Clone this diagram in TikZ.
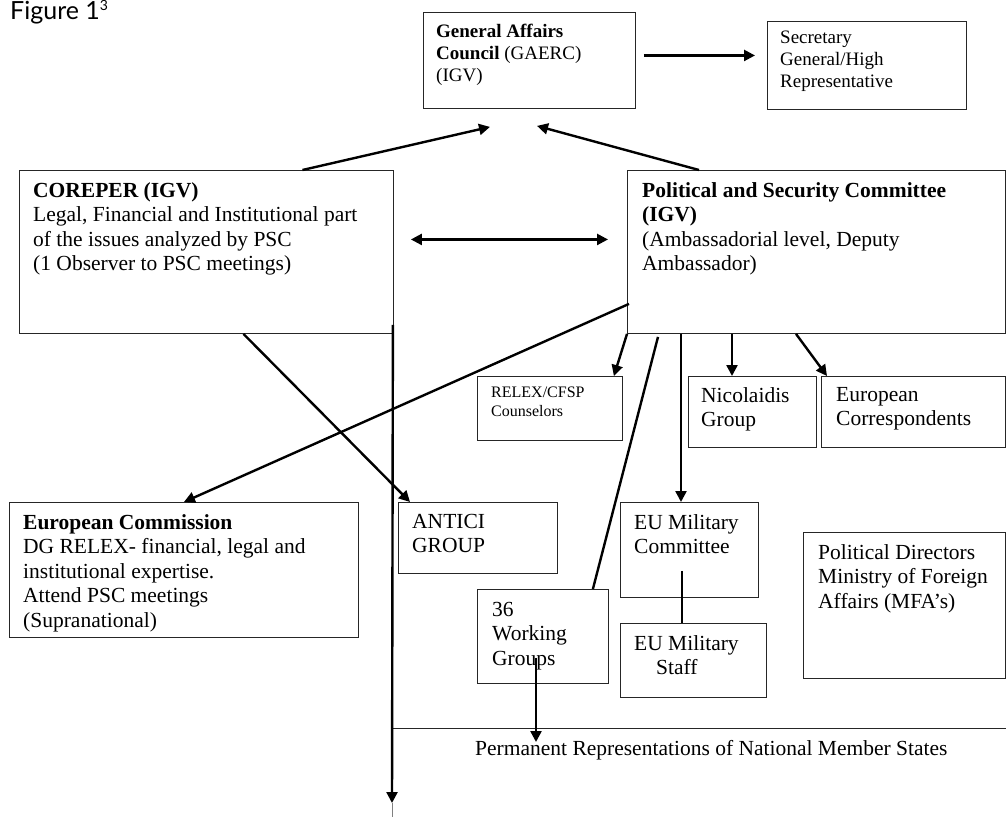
\documentclass[tikz,border=0pt]{standalone}
\usepackage{fontspec}
\setmainfont{Liberation Serif}
\newfontfamily\figfont{Lato}
\usetikzlibrary{positioning,arrows.meta}

\begin{document}
\begin{tikzpicture}
  [
      x=1pt, y=-1pt,
      box/.style={draw=black!85, line width=0.9pt, anchor=north west, inner sep=0pt},
      txt/.style={anchor=north west, align=left, inner sep=0pt, font=\fontsize{21.5}{24.5}\selectfont},
      toptxt/.style={txt, font=\fontsize{19}{22}\selectfont},
      smalltxt/.style={txt, font=\fontsize{16}{19}\selectfont},
      link/.style={line width=2.4pt},
      >={Triangle[length=11pt, width=11pt]},
    ]
  \useasboundingbox (0,0) rectangle (1006,817);

  \node (fig) [anchor=north west, inner sep=0pt, font=\figfont\fontsize{25}{28}\selectfont] at (10,0) {Figure 1\textsuperscript{\fontsize{14}{14}\selectfont 3}};

  % boxes
  \node (gaerc) [box, minimum width=212, minimum height=96] at (423,12) {};
  \node (sec) [box, minimum width=199, minimum height=88] at (767,21) {};
  \node (corep) [box, minimum width=374, minimum height=163] at (19,170) {};
  \node (psc) [box, minimum width=378, minimum height=163] at (627,170) {};
  \node (relex) [box, minimum width=145, minimum height=64] at (477,376) {};
  \node (nicol) [box, minimum width=128, minimum height=71] at (688,376) {};
  \node (eurcor) [box, minimum width=184, minimum height=71] at (821,376) {};
  \node (ec) [box, minimum width=349, minimum height=135] at (9,502) {};
  \node (antici) [box, minimum width=159, minimum height=71] at (398,502) {};
  \node (eumc) [box, minimum width=138, minimum height=95] at (620,502) {};
  \node (eums) [box, minimum width=146, minimum height=74] at (620,623) {};
  \node (wg) [box, minimum width=131, minimum height=94] at (477,589) {};
  \node (pdir) [box, minimum width=202, minimum height=146] at (803,532) {};

  % texts
  \node (gaerct) [toptxt, below right=12pt and 13pt of gaerc.north west] {\textbf{General Affairs}\\\textbf{Council} (GAERC)\\(IGV)};
  \node (sect) [toptxt, below right=10pt and 13pt of sec.north west] {Secretary\\General/High\\Representative};
  \node (corept) [txt, below right=12pt and 14pt of corep.north west] {\textbf{COREPER (IGV)}\\Legal, Financial and Institutional part\\of the issues analyzed by PSC\\(1 Observer to PSC meetings)};
  \node (psct) [txt, below right=12pt and 15pt of psc.north west] {\textbf{Political and Security Committee}\\\textbf{(IGV)}\\(Ambassadorial level, Deputy\\Ambassador)};
  \node (relext) [smalltxt, below right=11pt and 14pt of relex.north west] {RELEX/CFSP\\Counselors};
  \node (nicolt) [txt, below right=11pt and 13pt of nicol.north west] {Nicolaidis\\Group};
  \node (eurcort) [txt, below right=11pt and 15pt of eurcor.north west] {European\\Correspondents};
  \node (ect) [txt, below right=12pt and 14pt of ec.north west] {\textbf{European Commission}\\DG RELEX- financial, legal and\\institutional expertise.\\Attend PSC meetings\\(Supranational)};
  \node (antict) [txt, below right=12pt and 14pt of antici.north west] {ANTICI\\GROUP};
  \node (eumct) [txt, below right=12pt and 14pt of eumc.north west] {EU Military\\Committee};
  \node (eumst) [txt, below right=12pt and 14pt of eums.north west] {EU Military\\\hspace*{22pt}Staff};
  \node (wgt) [txt, below right=13pt and 15pt of wg.north west] {36\\Working\\Groups};
  \node (pdirt) [txt, below right=12pt and 15pt of pdir.north west] {Political Directors\\Ministry of Foreign\\Affairs (MFA’s)};

  % permanent representations
  \coordinate (permL) at (393,728);
  \coordinate (permR) at (1006,728);
  \draw [black!85, line width=0.9pt] (permL) -- (permR);
  \node (perm) [txt, below right=12pt and 82pt of permL] {Permanent Representations of National Member States};

  % connectors
  \draw [link, ->] ([shift={(8,-5)}]gaerc.east) -- ([shift={(-12,-10)}]sec.west);
  \draw [link, ->] ([xshift=96pt]corep.north) -- ([shift={(67,18)}]gaerc.south west);
  \draw [link, ->] ([xshift=72pt]psc.north west) -- ([shift={(114,17)}]gaerc.south west);
  \draw [link, <->] ([shift={(17,-12.5)}]corep.east) -- ([shift={(-19,-12.5)}]psc.west);
  \draw [link, ->] ([shift={(2,-30)}]psc.south west) -- (ec.north);
  \draw [link, ->] ([xshift=37pt]corep.south) -- ([xshift=12pt]antici.north west);

  \coordinate (down) at (392,803);
  \coordinate (bottom) at (392,817);
  \draw [link, ->] ([shift={(-1,-9)}]corep.south east) -- (down);
  \draw [gray, line width=0.8pt] (down) -- (bottom);

  \coordinate (p1) at ([xshift=54pt]psc.south west);
  \coordinate (p2) at ([xshift=105pt]psc.south west);
  \foreach \s/\t in {p1/eumc, p2/nicol}
    \draw [link, ->] (\s) -- (\s |- \t.north);
  \draw [link, ->] (psc.south west) -- ([xshift=-9pt]relex.north east);
  \draw [link, ->] ([xshift=169pt]psc.south west) -- ([xshift=6pt]eurcor.north west);
  \draw [link] ([shift={(31,3)}]psc.south west) -- ([xshift=-16pt]wg.north east);

  \coordinate (m1) at ([shift={(62,-27)}]eumc.south west);
  \draw [link] (m1) -- (m1 |- eums.north);

  \coordinate (w1) at ([shift={(59,-26)}]wg.south west);
  \coordinate (w2) at (536,742);
  \draw [link, ->] (w1) -- (w2);
\end{tikzpicture}
\end{document}
